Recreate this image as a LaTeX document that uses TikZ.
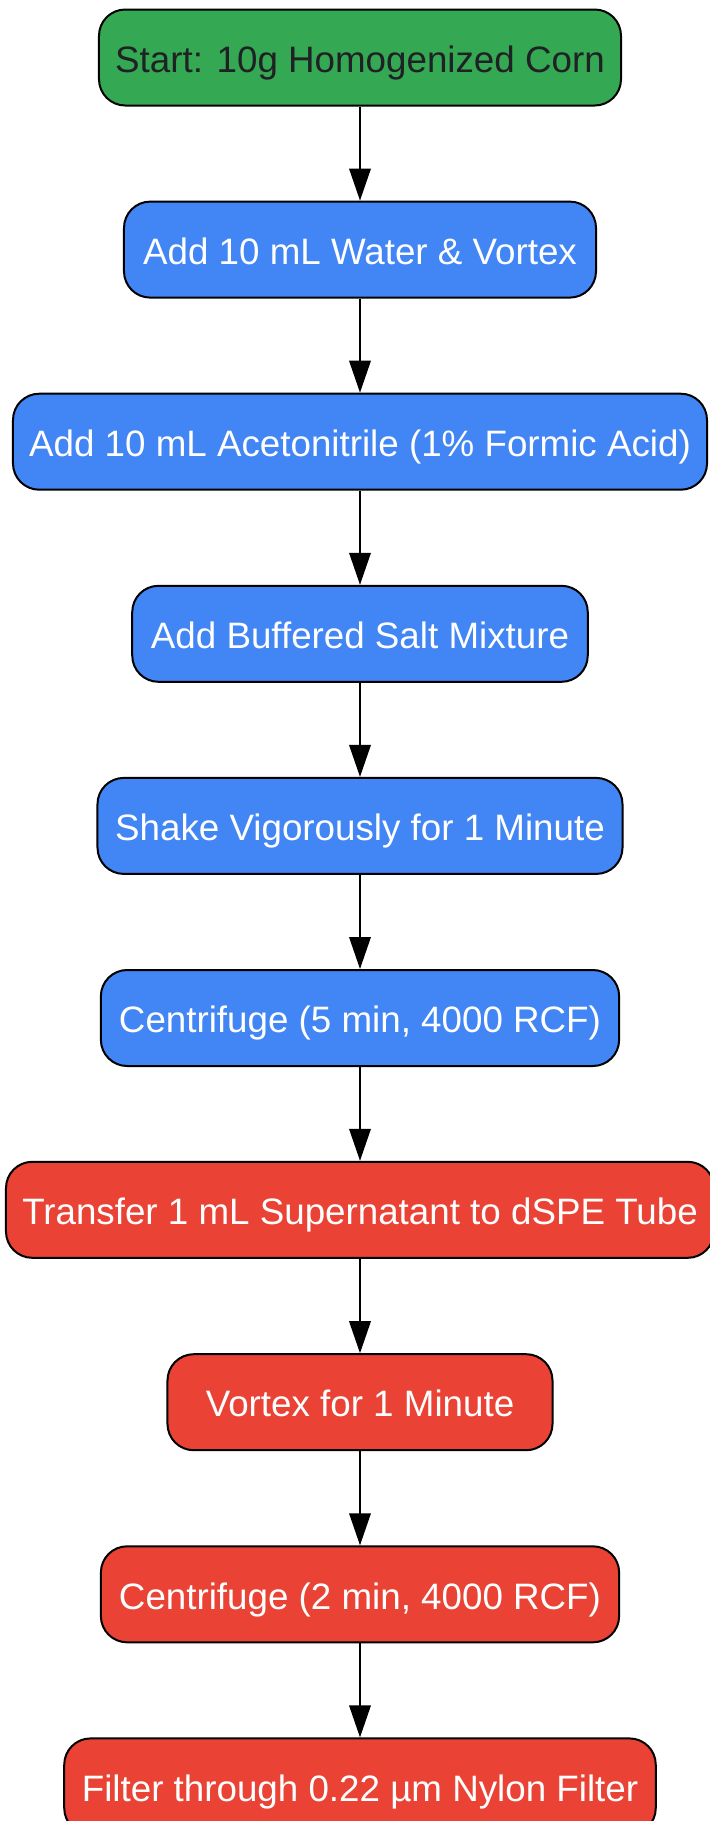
\documentclass[tikz,border=0pt]{standalone}
\usepackage{fontspec}
\setmainfont{Liberation Sans}
\usepackage{tikz}
\usetikzlibrary{arrows.meta}
\definecolor{gstart}{HTML}{34A853}
\definecolor{gextr}{HTML}{4285F4}
\definecolor{gclean}{HTML}{EA4335}
\definecolor{gtext}{HTML}{202124}

\begin{document}
\begin{tikzpicture}[x=0.4pt, y=-0.4pt, >={Triangle[length=12.8pt,width=8.6pt]}]
      \tikzstyle{every node}=[font=\fontsize{14.7}{17}\selectfont]
      \tikzstyle{box}=[draw=black, line width=0.8pt, rounded corners=10.5pt, minimum height=38.4pt, inner sep=0pt, text height=14.8pt, text depth=3pt]
      \tikzstyle{startbox}=[box, fill=gstart, text=gtext]
      \tikzstyle{extrbox}=[box, fill=gextr, text=white]
      \tikzstyle{cleanbox}=[box, fill=gclean, text=white]
      \useasboundingbox (0,0) rectangle (710,1821);
      %%
  \node (s_start) at (360,57.5) [startbox, minimum width=208.8pt] {Start: 10g Homogenized Corn};
  \node (s_water) at (360,249.6) [extrbox, minimum width=188.8pt] {Add 10 mL Water \& Vortex};
  \node (s_acn) at (360,441.7) [extrbox, minimum width=277.6pt] {Add 10 mL Acetonitrile (1\% Formic Acid)};
  \node (s_salt) at (360,633.8) [extrbox, minimum width=182.2pt] {Add Buffered Salt Mixture};
  \node (s_shake) at (360,825.9) [extrbox, minimum width=210pt] {Shake Vigorously for 1 Minute};
  \node (s_cfa) at (360,1018) [extrbox, minimum width=207.3pt] {Centrifuge (5 min, 4000 RCF)};
  \node (s_dspe) at (360,1209.8) [cleanbox, minimum width=283.2pt] {Transfer 1 mL Supernatant to dSPE Tube};
  \node (s_vortex) at (360,1402.2) [cleanbox, minimum width=154pt] {Vortex for 1 Minute};
  \node (s_cfb) at (360,1594.3) [cleanbox, minimum width=207.3pt] {Centrifuge (2 min, 4000 RCF)};
  \node (s_filter) at (360,1786.4) [cleanbox, minimum width=236.6pt] {Filter through 0.22 µm Nylon Filter};
  \draw [->, line width=0.75pt] (s_start) -- (s_water);
  \draw [->, line width=0.75pt] (s_water) -- (s_acn);
  \draw [->, line width=0.75pt] (s_acn) -- (s_salt);
  \draw [->, line width=0.75pt] (s_salt) -- (s_shake);
  \draw [->, line width=0.75pt] (s_shake) -- (s_cfa);
  \draw [->, line width=0.75pt] (s_cfa) -- (s_dspe);
  \draw [->, line width=0.75pt] (s_dspe) -- (s_vortex);
  \draw [->, line width=0.75pt] (s_vortex) -- (s_cfb);
  \draw [->, line width=0.75pt] (s_cfb) -- (s_filter);
%

    \end{tikzpicture}
\end{document}
